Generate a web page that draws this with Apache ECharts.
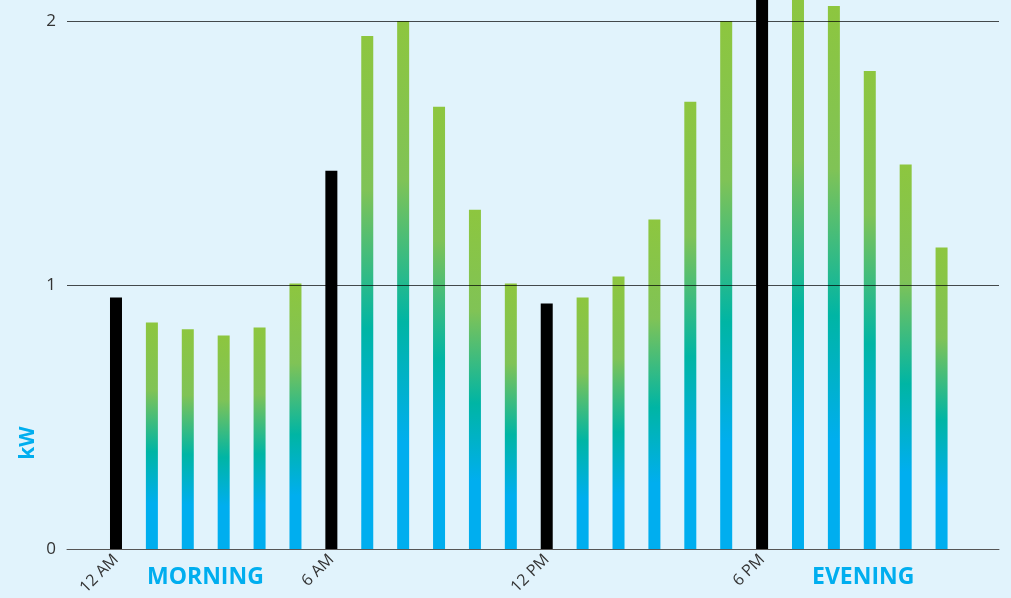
<!DOCTYPE html>
<html>
<head>
<meta charset="utf-8">
<script src="https://cdn.jsdelivr.net/npm/echarts@6/dist/echarts.min.js"></script>
<style>
html,body{margin:0;padding:0;background:#e1f3fc;}
#c{width:1011px;height:598px;}
</style>
</head>
<body>
<div id="c"></div>
<script>
const hours = [0,1,2,3,4,5,6,7,8,9,10,11,12,13,14,15,16,17,18,19,20,21,22,23];
const kw = [0.953,0.858,0.832,0.809,0.839,1.006,1.433,1.943,2.0,1.675,1.285,1.006,0.93,0.953,1.032,1.248,1.694,2.0,2.25,2.1,2.057,1.811,1.456,1.142];
const highlighted = [0,6,12,18];
const tickLabels = {0:'12 AM',6:'6 AM',12:'12 PM',18:'6 PM'};
const yTicks = [0,1,2];

const grad = new echarts.graphic.LinearGradient(0,0,0,1,[
  {offset:0,color:'#8dc63f'},
  {offset:0.3,color:'#80c356'},
  {offset:0.57,color:'#00b5a4'},
  {offset:0.8,color:'#00aeef'},
  {offset:1,color:'#00aeef'}
]);

const chart = echarts.init(document.getElementById('c'));
chart.setOption({
  backgroundColor:'#e1f3fc',
  animation:false,
  grid:{left:67,right:12,top:21,bottom:48},
  xAxis:{
    type:'value',min:-1.365,max:24.6,
    splitLine:{show:false},
    axisLine:{show:true,onZero:false,lineStyle:{color:'#555',width:1}},
    axisTick:{show:false},
    axisLabel:{
      customValues:highlighted,
      rotate:45,margin:8,
      fontFamily:'Open Sans',fontSize:16,color:'#333',
      formatter:v=>tickLabels[v]||''
    }
  },
  yAxis:{
    type:'value',min:0,max:2,interval:1,
    axisLine:{show:false},axisTick:{show:false},
    splitLine:{show:false},
    axisLabel:{fontFamily:'Open Sans',fontSize:17,color:'#333',margin:11}
  },
  series:[{
    type:'bar',
    clip:false,
    barWidth:12,
    data:hours.map((h,i)=>({
      value:[h,kw[i]],
      itemStyle:{color: highlighted.includes(h) ? '#000' : grad}
    })),
    markLine:{
      silent:true,symbol:'none',label:{show:false},
      lineStyle:{color:'#000',width:1,type:'solid',opacity:0.7},
      data:yTicks.filter(v=>v>0).map(v=>({yAxis:v}))
    }
  }],
  graphic:[
    {type:'text',left:147,top:566,style:{text:'MORNING',fontFamily:'Open Sans',fontWeight:'bold',fontSize:23,fill:'#00aeef'}},
    {type:'text',left:812,top:566,style:{text:'EVENING',fontFamily:'Open Sans',fontWeight:'bold',fontSize:23,fill:'#00aeef'}},
    {type:'text',x:28,y:443,rotation:Math.PI/2,style:{text:'kW',fontFamily:'Open Sans',fontWeight:'bold',fontSize:21,fill:'#00aeef',align:'center',verticalAlign:'middle'}}
  ]
});
</script>
</body>
</html>
